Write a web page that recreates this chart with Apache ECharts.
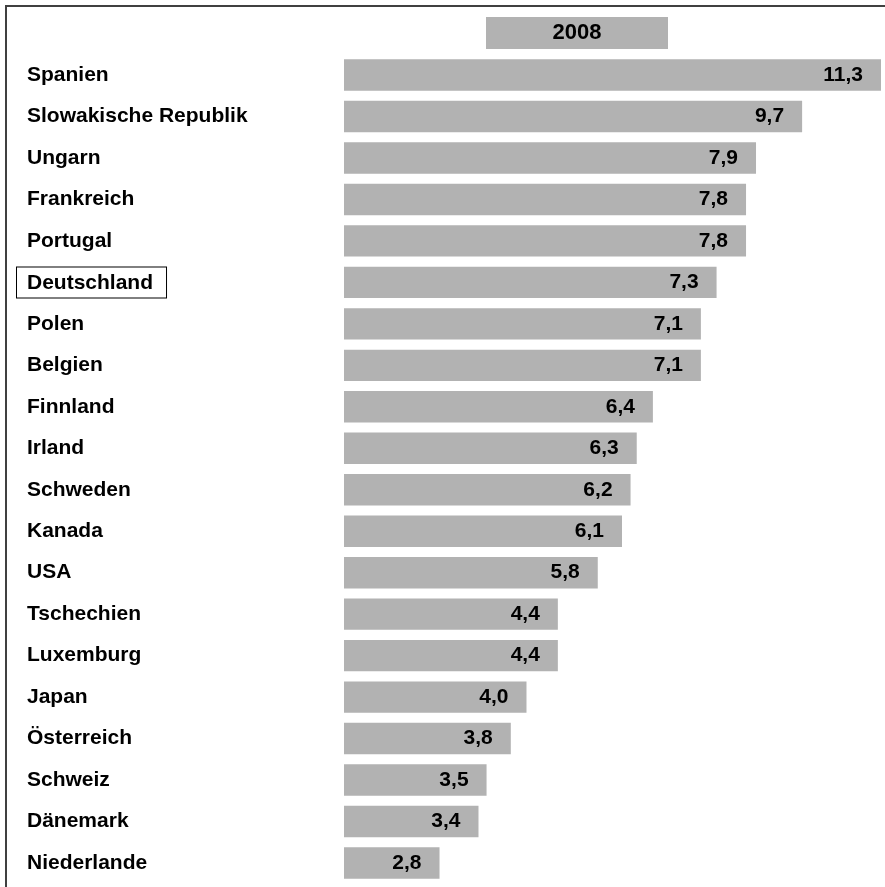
<!DOCTYPE html>
<html>
<head>
<meta charset="utf-8">
<style>
  html, body { margin: 0; padding: 0; background: #fff; }
  #chart { width: 885px; height: 887px; }
</style>
<script src="https://cdn.jsdelivr.net/npm/echarts@6/dist/echarts.min.js"></script>
</head>
<body>
<div id="chart"></div>
<script>
// Categories, top to bottom
const categories = [
  'Spanien', 'Slowakische Republik', 'Ungarn', 'Frankreich', 'Portugal',
  'Deutschland', 'Polen', 'Belgien', 'Finnland', 'Irland', 'Schweden',
  'Kanada', 'USA', 'Tschechien', 'Luxemburg', 'Japan', 'Österreich',
  'Schweiz', 'Dänemark', 'Niederlande'
];
// Printed values (2008)
const values = [
  11.3, 9.7, 7.9, 7.8, 7.8, 7.3, 7.1, 7.1, 6.4, 6.3, 6.2,
  6.1, 5.8, 4.4, 4.4, 4.0, 3.8, 3.5, 3.4, 2.8
];
// Bar extents as drawn in the picture (same units as the Spanien bar)
const barLengths = [
  11.30, 9.64, 8.67, 8.46, 8.46, 7.84, 7.51, 7.51, 6.50, 6.16, 6.03,
  5.85, 5.34, 4.50, 4.50, 3.84, 3.51, 3.00, 2.83, 2.01
];
const seriesName = '2008';
const highlighted = 'Deutschland';

const chart = echarts.init(document.getElementById('chart'), null, { renderer: 'canvas' });
const FONT = '"Liberation Sans", Arial, sans-serif';

chart.setOption({
  animation: false,
  backgroundColor: '#ffffff',
  legend: { show: false, data: [seriesName] },
  graphic: [
    {
      type: 'rect',
      silent: true,
      z: 100,
      shape: { x: 6, y: 6, width: 1000, height: 1000 },
      style: { fill: 'none', stroke: '#404040', lineWidth: 2 }
    },
    {
      type: 'rect',
      silent: true,
      shape: { x: 486, y: 17, width: 182, height: 32 },
      style: { fill: '#b2b2b2' }
    },
    {
      type: 'text',
      silent: true,
      x: 577,
      y: 33,
      style: {
        text: seriesName,
        fill: '#000',
        font: 'bold 22px "Liberation Sans", Arial, sans-serif',
        align: 'center',
        verticalAlign: 'middle'
      }
    }
  ],
  grid: {
    left: 344,
    right: 4,
    top: 54.3,
    bottom: 3.3,
    containLabel: false
  },
  xAxis: {
    type: 'value',
    min: 0,
    max: 11.3,
    show: false
  },
  yAxis: {
    type: 'category',
    data: categories,
    inverse: true,
    axisLine: { show: false },
    axisTick: { show: false },
    splitLine: { show: false },
    axisLabel: {
      align: 'left',
      margin: 327,
      fontFamily: FONT,
      formatter: function (v) {
        return v === highlighted ? '{box|' + v + '}' : '{n|' + v + '}';
      },
      rich: {
        n: {
          fontFamily: FONT, fontWeight: 'bold', fontSize: 21, color: '#000',
          padding: [0, 0, 0, 10]
        },
        box: {
          fontFamily: FONT, fontWeight: 'bold', fontSize: 21, color: '#000',
          borderColor: '#000', borderWidth: 1, lineHeight: 22,
          padding: [5, 13, 4, 10], backgroundColor: '#fff'
        }
      }
    }
  },
  series: [{
    name: seriesName,
    type: 'bar',
    data: barLengths,
    barWidth: 31.4,
    itemStyle: { color: '#b2b2b2' },
    label: {
      show: true,
      position: 'insideRight',
      distance: 18,
      fontFamily: FONT,
      fontWeight: 'bold',
      fontSize: 21,
      color: '#000',
      formatter: function (p) {
        return values[p.dataIndex].toFixed(1).replace('.', ',');
      }
    }
  }]
});
</script>
</body>
</html>
